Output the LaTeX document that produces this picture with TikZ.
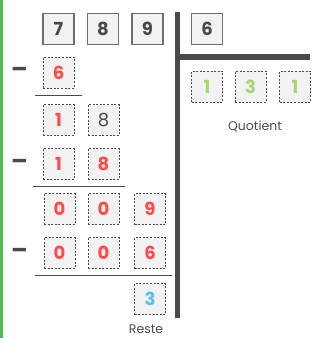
\documentclass[tikz,border=0pt]{standalone}
\usepackage{fontspec}
\setmainfont{Poppins}
\definecolor{redd}{HTML}{FF4B4B}
\definecolor{greenq}{HTML}{A8D672}
\definecolor{bluer}{HTML}{4FC3F7}
\definecolor{darkg}{HTML}{4A4A4A}
\definecolor{boxf}{HTML}{F2F2F2}
\definecolor{barg}{HTML}{55B955}
\tikzset{
  solidbox/.style={draw=darkg!80, line width=1.4pt, fill=boxf, minimum width=31pt, minimum height=31pt, inner sep=0pt, font=\fontsize{18}{18}\selectfont\bfseries, text=darkg},
  dashbox/.style={draw=darkg, line width=0.9pt, dash pattern=on 2pt off 1.6pt, fill=boxf, minimum width=31pt, minimum height=31pt, inner sep=0pt, font=\fontsize{18}{18}\selectfont\bfseries},
  rd/.style={dashbox, text=redd},
  gq/.style={dashbox, text=greenq},
  bl/.style={dashbox, text=bluer},
  gr/.style={dashbox, text=darkg, font=\fontsize{18}{18}\selectfont},
  minus/.style={font=\fontsize{24}{24}\selectfont\bfseries, text=darkg, inner sep=0pt},
  lbl/.style={font=\fontsize{12.5}{12.5}\selectfont, text=darkg},
  rule/.style={draw=darkg, line width=1pt},
}
\begin{document}
\begin{tikzpicture}[x=1pt,y=-1pt]
\useasboundingbox (0,0) rectangle (321,338);
\fill[barg] (0,0) rectangle (3.2,338);
% bars
\fill[darkg] (175,12) rectangle (179.5,318);
\fill[darkg] (175,54) rectangle (310,60);
% top row
\node[solidbox] (d7) at (58.5,29) {7};
\node[solidbox] (d8) at (103,29) {8};
\node[solidbox] (d9) at (147.5,29) {9};
\node[solidbox] (dv) at (207,29) {6};
% quotient
\node[gq] (q1) at (207,86.5) {1};
\node[gq] (q2) at (250.5,86.5) {3};
\node[gq] (q3) at (295,86.5) {1};
\node[lbl] (ql) at (255,127) {Quotient};
% row 2
\node[minus] (m1) at (19.5,72) {\textendash};
\node[rd] (s1) at (58.5,72.5) {6};
\draw[rule] (35,95) -- (82,95);
% row 3
\node[rd] (r31) at (58.5,120) {1};
\node[gr] (r32) at (103.5,120) {8};
% row 4
\node[minus] (m2) at (19.5,164) {\textendash};
\node[rd] (s21) at (58.5,164) {1};
\node[rd] (s22) at (103.5,164) {8};
\draw[rule] (33,186) -- (125,186);
% row 5
\node[rd] (r51) at (59.5,209) {0};
\node[rd] (r52) at (103.5,209) {0};
\node[rd] (r53) at (150,209) {9};
% row 6
\node[minus] (m3) at (19.5,253) {\textendash};
\node[rd] (s31) at (59.5,253) {0};
\node[rd] (s32) at (103.5,253) {0};
\node[rd] (s33) at (150,253) {6};
\draw[rule] (35,275) -- (172,275);
% remainder
\node[bl] (rem) at (150,299) {3};
\node[lbl] (rl) at (146,329.5) {Reste};
\end{tikzpicture}
\end{document}
